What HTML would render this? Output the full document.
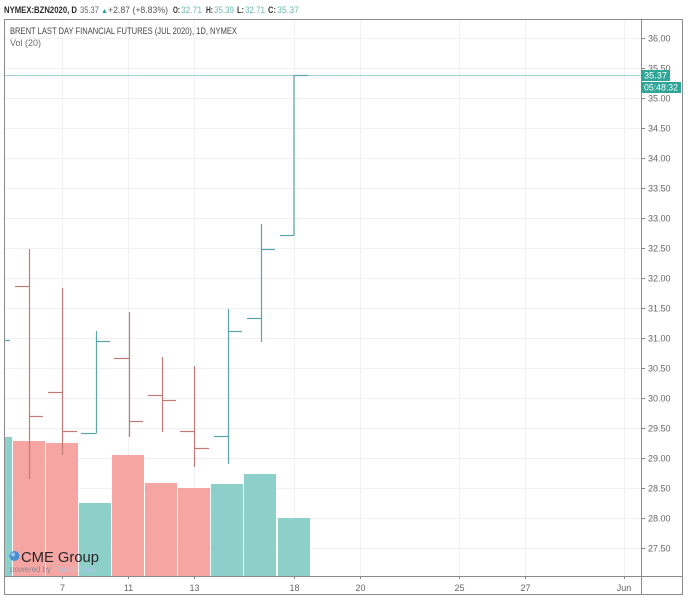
<!DOCTYPE html>
<html><head><meta charset="utf-8"><style>
html,body{margin:0;padding:0;background:#fff;}
svg{display:block;font-family:"Liberation Sans",sans-serif;}
</style></head><body>
<svg width="688" height="600" viewBox="0 0 688 600" xmlns="http://www.w3.org/2000/svg">
<rect x="0" y="0" width="688" height="600" fill="#fff"/>
<!-- header -->
<g font-size="9" font-weight="bold">
<text x="4" y="13" fill="#2a2a2a" textLength="73" lengthAdjust="spacingAndGlyphs">NYMEX:BZN2020, D</text>
<text x="80" y="13" fill="#666" font-weight="normal" textLength="19" lengthAdjust="spacingAndGlyphs">35.37</text>
<text x="101" y="13" fill="#26a69a" font-size="7">▲</text>
<text x="108" y="13" fill="#555" font-weight="normal" textLength="60" lengthAdjust="spacingAndGlyphs">+2.87 (+8.83%)</text>
<text x="173" y="13" fill="#333" textLength="7" lengthAdjust="spacingAndGlyphs">O:</text>
<text x="181" y="13" fill="#6cbab1" font-weight="normal" textLength="21" lengthAdjust="spacingAndGlyphs">32.71</text>
<text x="206" y="13" fill="#333" textLength="7" lengthAdjust="spacingAndGlyphs">H:</text>
<text x="214" y="13" fill="#6cbab1" font-weight="normal" textLength="20" lengthAdjust="spacingAndGlyphs">35.39</text>
<text x="237" y="13" fill="#333" textLength="7" lengthAdjust="spacingAndGlyphs">L:</text>
<text x="245" y="13" fill="#6cbab1" font-weight="normal" textLength="20" lengthAdjust="spacingAndGlyphs">32.71</text>
<text x="268" y="13" fill="#333" textLength="8" lengthAdjust="spacingAndGlyphs">C:</text>
<text x="277" y="13" fill="#6cbab1" font-weight="normal" textLength="22" lengthAdjust="spacingAndGlyphs">35.37</text>
</g>
<!-- grid -->
<g stroke="#eef0f3" stroke-width="1">
<line x1="4" y1="38.5" x2="641" y2="38.5"/>
<line x1="4" y1="68.5" x2="641" y2="68.5"/>
<line x1="4" y1="98.5" x2="641" y2="98.5"/>
<line x1="4" y1="128.5" x2="641" y2="128.5"/>
<line x1="4" y1="158.5" x2="641" y2="158.5"/>
<line x1="4" y1="188.5" x2="641" y2="188.5"/>
<line x1="4" y1="218.5" x2="641" y2="218.5"/>
<line x1="4" y1="248.5" x2="641" y2="248.5"/>
<line x1="4" y1="278.5" x2="641" y2="278.5"/>
<line x1="4" y1="308.5" x2="641" y2="308.5"/>
<line x1="4" y1="338.5" x2="641" y2="338.5"/>
<line x1="4" y1="368.5" x2="641" y2="368.5"/>
<line x1="4" y1="398.5" x2="641" y2="398.5"/>
<line x1="4" y1="428.5" x2="641" y2="428.5"/>
<line x1="4" y1="458.5" x2="641" y2="458.5"/>
<line x1="4" y1="488.5" x2="641" y2="488.5"/>
<line x1="4" y1="518.5" x2="641" y2="518.5"/>
<line x1="4" y1="548.5" x2="641" y2="548.5"/>
<line x1="62.5" y1="19" x2="62.5" y2="576"/>
<line x1="128.5" y1="19" x2="128.5" y2="576"/>
<line x1="194.5" y1="19" x2="194.5" y2="576"/>
<line x1="294.5" y1="19" x2="294.5" y2="576"/>
<line x1="360.5" y1="19" x2="360.5" y2="576"/>
<line x1="459.5" y1="19" x2="459.5" y2="576"/>
<line x1="525.5" y1="19" x2="525.5" y2="576"/>
<line x1="624.5" y1="19" x2="624.5" y2="576"/>
</g>
<!-- titles -->
<text x="10" y="34" font-size="9" fill="#444" textLength="227" lengthAdjust="spacingAndGlyphs">BRENT LAST DAY FINANCIAL FUTURES (JUL 2020), 1D, NYMEX</text>
<text x="10" y="46" font-size="9" fill="#6a6a6a" textLength="31" lengthAdjust="spacingAndGlyphs">Vol (20)</text>
<!-- volume -->
<g>
<rect x="4" y="437" width="8" height="139" fill="#8dd0c9"/>
<rect x="13" y="441" width="32" height="135" fill="#f5a6a2"/>
<rect x="46" y="443" width="32" height="133" fill="#f5a6a2"/>
<rect x="79" y="503" width="32" height="73" fill="#8dd0c9"/>
<rect x="112" y="455" width="32" height="121" fill="#f5a6a2"/>
<rect x="145" y="483" width="32" height="93" fill="#f5a6a2"/>
<rect x="178" y="488" width="32" height="88" fill="#f5a6a2"/>
<rect x="211" y="484" width="32" height="92" fill="#8dd0c9"/>
<rect x="244" y="474" width="32" height="102" fill="#8dd0c9"/>
<rect x="278" y="518" width="32" height="58" fill="#8dd0c9"/>
</g>
<!-- current price line -->
<line x1="4" y1="75.5" x2="641" y2="75.5" stroke="#9ccdd0" stroke-width="1"/>
<!-- OHLC bars -->
<g stroke-width="1.2" fill="none">
<g stroke="#5aa5ab">
<line x1="4" y1="340.5" x2="10" y2="340.5"/>
</g>
<g stroke="#c27a76">
<line x1="29.5" y1="249" x2="29.5" y2="479"/><line x1="15" y1="286.5" x2="29.5" y2="286.5"/><line x1="29.5" y1="416.5" x2="43" y2="416.5"/>
<line x1="62.5" y1="288" x2="62.5" y2="455"/><line x1="48" y1="392.5" x2="62.5" y2="392.5"/><line x1="62.5" y1="431.5" x2="77" y2="431.5"/>
<line x1="129.5" y1="312" x2="129.5" y2="437"/><line x1="114" y1="358.5" x2="129.5" y2="358.5"/><line x1="129.5" y1="421.5" x2="143" y2="421.5"/>
<line x1="162.5" y1="357" x2="162.5" y2="432"/><line x1="148" y1="395.5" x2="162.5" y2="395.5"/><line x1="162.5" y1="400.5" x2="176" y2="400.5"/>
<line x1="194.5" y1="366" x2="194.5" y2="467"/><line x1="180" y1="431.5" x2="194.5" y2="431.5"/><line x1="194.5" y1="448.5" x2="209" y2="448.5"/>
</g>
<g stroke="#5aa5ab">
<line x1="96.5" y1="331" x2="96.5" y2="433"/><line x1="81" y1="433.5" x2="96.5" y2="433.5"/><line x1="96.5" y1="341.5" x2="110" y2="341.5"/>
<line x1="228.5" y1="309" x2="228.5" y2="464"/><line x1="214" y1="436.5" x2="228.5" y2="436.5"/><line x1="228.5" y1="331.5" x2="242" y2="331.5"/>
<line x1="261.5" y1="224" x2="261.5" y2="342"/><line x1="247" y1="318.5" x2="261.5" y2="318.5"/><line x1="261.5" y1="249.5" x2="275" y2="249.5"/>
<line x1="294" y1="75" x2="294" y2="235.5"/><line x1="280" y1="235.5" x2="294" y2="235.5"/><line x1="294" y1="75.5" x2="308" y2="75.5"/>
</g>
</g>
<!-- logo -->
<circle cx="14.5" cy="556" r="5" fill="#4a8fd0"/>
<circle cx="13" cy="554.5" r="2" fill="#9cc7ee"/>
<text x="21" y="562" font-size="15" fill="#2a2426" textLength="78" lengthAdjust="spacingAndGlyphs">CME Group</text>
<text x="10" y="572" font-size="8" fill="#8a8a9a" textLength="41" lengthAdjust="spacingAndGlyphs">powered by</text>
<text x="55" y="572" font-size="8" fill="#a9c8e4" textLength="42" lengthAdjust="spacingAndGlyphs">TradingView</text>
<!-- frame -->
<g stroke="#8a8a8a" stroke-width="1" fill="none">
<rect x="4.5" y="19.5" width="678" height="575"/>
<line x1="641.5" y1="19" x2="641.5" y2="595"/>
<line x1="4" y1="576.5" x2="683" y2="576.5"/>
</g>
<!-- axis ticks -->
<g stroke="#8a8a8a">
<line x1="641" y1="38.5" x2="645" y2="38.5"/><line x1="641" y1="68.5" x2="645" y2="68.5"/><line x1="641" y1="98.5" x2="645" y2="98.5"/>
<line x1="641" y1="128.5" x2="645" y2="128.5"/><line x1="641" y1="158.5" x2="645" y2="158.5"/><line x1="641" y1="188.5" x2="645" y2="188.5"/>
<line x1="641" y1="218.5" x2="645" y2="218.5"/><line x1="641" y1="248.5" x2="645" y2="248.5"/><line x1="641" y1="278.5" x2="645" y2="278.5"/>
<line x1="641" y1="308.5" x2="645" y2="308.5"/><line x1="641" y1="338.5" x2="645" y2="338.5"/><line x1="641" y1="368.5" x2="645" y2="368.5"/>
<line x1="641" y1="398.5" x2="645" y2="398.5"/><line x1="641" y1="428.5" x2="645" y2="428.5"/><line x1="641" y1="458.5" x2="645" y2="458.5"/>
<line x1="641" y1="488.5" x2="645" y2="488.5"/><line x1="641" y1="518.5" x2="645" y2="518.5"/><line x1="641" y1="548.5" x2="645" y2="548.5"/>
<line x1="62.5" y1="576" x2="62.5" y2="579"/><line x1="128.5" y1="576" x2="128.5" y2="579"/><line x1="194.5" y1="576" x2="194.5" y2="579"/>
<line x1="294.5" y1="576" x2="294.5" y2="579"/><line x1="360.5" y1="576" x2="360.5" y2="579"/><line x1="459.5" y1="576" x2="459.5" y2="579"/>
<line x1="525.5" y1="576" x2="525.5" y2="579"/><line x1="624.5" y1="576" x2="624.5" y2="579"/>
</g>
<g font-size="9" fill="#666">
<text x="648" y="41.5">36.00</text>
<text x="648" y="71.5">35.50</text>
<text x="648" y="101.5">35.00</text>
<text x="648" y="131.5">34.50</text>
<text x="648" y="161.5">34.00</text>
<text x="648" y="191.5">33.50</text>
<text x="648" y="221.5">33.00</text>
<text x="648" y="251.5">32.50</text>
<text x="648" y="281.5">32.00</text>
<text x="648" y="311.5">31.50</text>
<text x="648" y="341.5">31.00</text>
<text x="648" y="371.5">30.50</text>
<text x="648" y="401.5">30.00</text>
<text x="648" y="431.5">29.50</text>
<text x="648" y="461.5">29.00</text>
<text x="648" y="491.5">28.50</text>
<text x="648" y="521.5">28.00</text>
<text x="648" y="551.5">27.50</text>
</g>
<g font-size="9" fill="#666" text-anchor="middle">
<text x="62.5" y="591">7</text>
<text x="128.5" y="591">11</text>
<text x="194.5" y="591">13</text>
<text x="294.5" y="591">18</text>
<text x="360.5" y="591">20</text>
<text x="459.5" y="591">25</text>
<text x="525.5" y="591">27</text>
<text x="624" y="591">Jun</text>
</g>
<!-- price labels -->
<rect x="641" y="70" width="29" height="11" fill="#2fa597"/>
<text x="644" y="78.5" font-size="9" fill="#fff" textLength="23" lengthAdjust="spacingAndGlyphs">35.37</text>
<rect x="641" y="82" width="40" height="11" fill="#2fa597"/>
<text x="644" y="90.5" font-size="9" fill="#fff" textLength="34" lengthAdjust="spacingAndGlyphs">05:48:32</text>
</svg>
</body></html>
